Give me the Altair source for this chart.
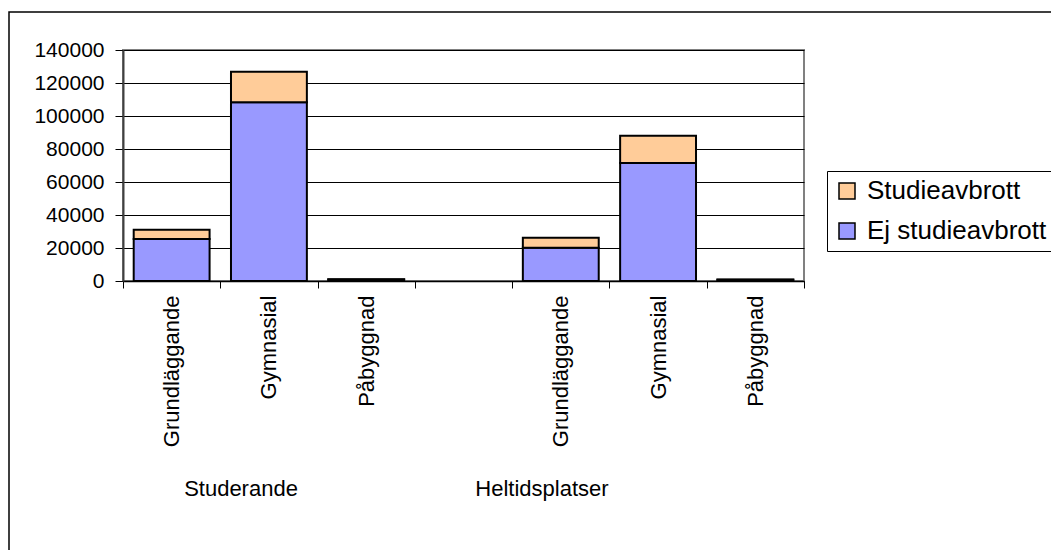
import altair as alt
import pandas as pd

# --- data ---
groups = ["Studerande", "Studerande", "Studerande", "Heltidsplatser", "Heltidsplatser", "Heltidsplatser"]
levels = ["Grundläggande", "Gymnasial", "Påbyggnad", "Grundläggande", "Gymnasial", "Påbyggnad"]
ej_studieavbrott = [25500, 108300, 900, 20200, 71500, 700]
studieavbrott = [5500, 18500, 150, 6000, 16500, 150]
series = ["Studieavbrott", "Ej studieavbrott"]
colors = ["#FFCC99", "#9999FF"]
y_ticks = [0, 20000, 40000, 60000, 80000, 100000, 120000, 140000]

keys = [f"{g}|{l}" for g, l in zip(groups, levels)]
domain = keys[:3] + ["gap|"] + keys[3:]

rows = []
for k, e, s in zip(keys, ej_studieavbrott, studieavbrott):
    rows.append({"cat": k, "serie": "Ej studieavbrott", "value": e, "ord": 0})
    rows.append({"cat": k, "serie": "Studieavbrott", "value": s, "ord": 1})
df = pd.DataFrame(rows)

FONT = "Liberation Sans"

bars = alt.Chart(df).mark_bar(stroke="black", strokeWidth=2, width=alt.RelativeBandSize(0.78)).encode(
    x=alt.X("cat:N", scale=alt.Scale(domain=domain, paddingInner=0, paddingOuter=0),
            axis=alt.Axis(title=None, labelAngle=-90, tickBand="extent", tickSize=7,
                          labelPadding=7, labelFontSize=22, labelColor="black",
                          domainColor="black", domainWidth=1.5, tickColor="black",
                          grid=False, labelFont=FONT,
                          labelExpr="replace('' + datum.label, /^.*[|]/, '')")),
    y=alt.Y("value:Q", stack="zero", scale=alt.Scale(domain=[0, 140000], nice=False),
            axis=alt.Axis(title=None, values=y_ticks, format="d", tickSize=8, labelPadding=11,
                          labelFontSize=21, labelColor="black", labelFont=FONT,
                          domainColor="#404040", domainWidth=2, tickColor="black",
                          grid=True, gridColor="black", gridWidth=1)),
    fill=alt.Fill("serie:N", scale=alt.Scale(domain=series, range=colors),
                  legend=alt.Legend(title=None, orient="none", legendX=704, legendY=121,
                                    strokeColor="black", fillColor="white", padding=7,
                                    labelFontSize=26, labelFont=FONT, labelColor="black",
                                    labelLimit=500,
                                    symbolType="square", symbolSize=256,
                                    symbolStrokeColor="black", symbolStrokeWidth=1.5,
                                    symbolOpacity=1, labelOffset=7, rowPadding=14)),
    order=alt.Order("ord:Q"),
)

border = alt.Chart(pd.DataFrame({"a": [0]})).mark_rect(
    fillOpacity=0, stroke="black", strokeWidth=1.5
).encode(x=alt.value(-114), x2=alt.value(2000), y=alt.value(-38), y2=alt.value(2000))

t1 = alt.Chart(pd.DataFrame({"t": [groups[0]]})).mark_text(
    fontSize=22, font=FONT, color="black", align="center", baseline="middle"
).encode(text="t:N", x=alt.value(118), y=alt.value(439))
t2 = alt.Chart(pd.DataFrame({"t": [groups[3]]})).mark_text(
    fontSize=22, font=FONT, color="black", align="center", baseline="middle"
).encode(text="t:N", x=alt.value(419), y=alt.value(439))

chart = alt.layer(border, bars, t1, t2).properties(
    width=681, height=231,
    autosize=alt.AutoSizeParams(type="none"),
    padding={"left": 115, "top": 42, "right": 247, "bottom": 269},
).configure(font=FONT).configure_view(stroke="#808080", strokeWidth=2)

chart.save("out.html", embed_options={"renderer": "svg", "actions": False})
